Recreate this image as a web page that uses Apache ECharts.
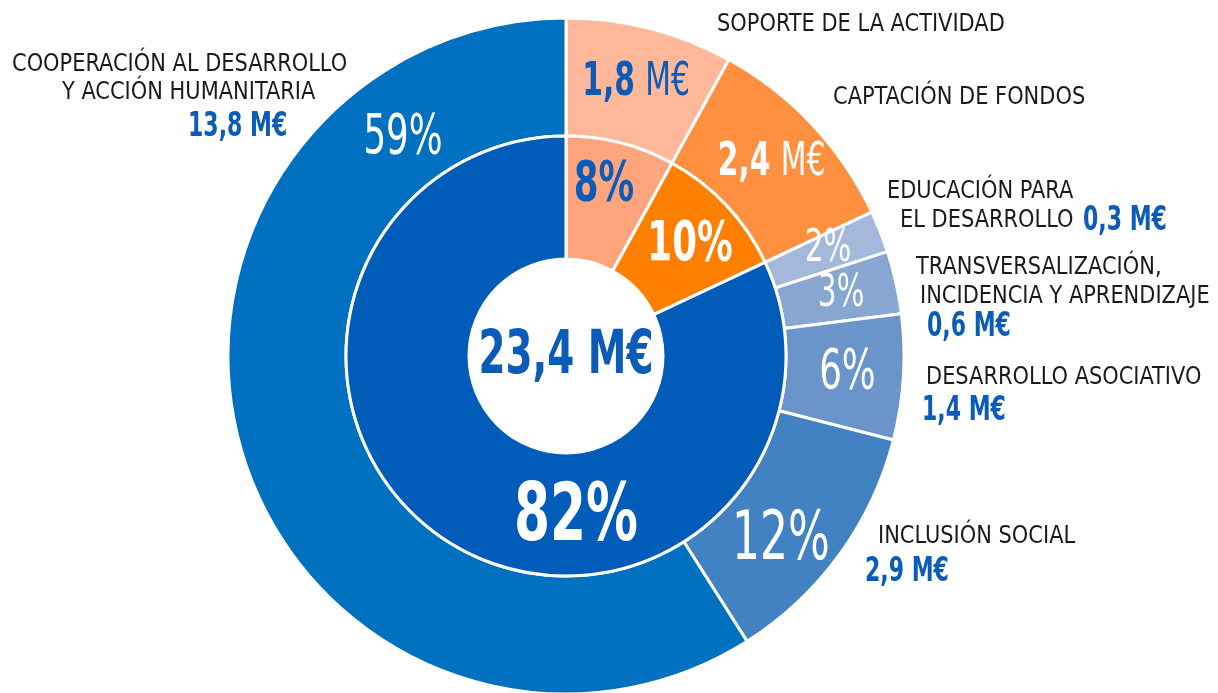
<!DOCTYPE html>
<html>
<head>
<meta charset="utf-8">
<script src="https://cdn.jsdelivr.net/npm/echarts@6/dist/echarts.min.js"></script>
<style>
  html, body { margin: 0; padding: 0; background: #fff; }
  #myChart { width: 1218px; height: 693px; }
</style>
</head>
<body>
<div id="myChart"></div>
<script>
// datos
var categorias = ['SOPORTE DE LA ACTIVIDAD', 'CAPTACIÓN DE FONDOS', 'EDUCACIÓN PARA\nEL DESARROLLO',
  'TRANSVERSALIZACIÓN,\nINCIDENCIA Y APRENDIZAJE', 'DESARROLLO ASOCIATIVO', 'INCLUSIÓN SOCIAL',
  'COOPERACIÓN AL DESARROLLO\nY ACCIÓN HUMANITARIA'];
var porcentajes = [8, 10, 2, 3, 6, 12, 59];
var importes = ['1,8', '2,4', '0,3', '0,6', '1,4', '2,9', '13,8'];
var grupos = ['Soporte', 'Captación', 'Misión'];
var porcentajesGrupo = [8, 10, 82];
var total = '23,4';

var FONT = '"Liberation Sans Narrow", "DejaVu Sans Condensed", sans-serif';
var AZUL = '#0a5cb8';
var ESTRECHO = 0.72; // no hay fuente condensada de verdad, se estrecha a mano
var coloresExt = ['#ffb99a', '#ff9040', '#a3b8db', '#88a6d2', '#6a94ca', '#4281c2', '#0070c0'];
var coloresInt = ['#ffa57d', '#ff8000', '#005bb9'];

// etiquetas de fuera: posicion de cada linea del nombre y del importe
var posNombre = [
  [[717, 25]],
  [[833, 98]],
  [[887, 192], [900, 221]],
  [[916, 268], [920, 297]],
  [[926, 378]],
  [[878, 537]],
  [[12, 65], [62, 93]]
];
var posImporte = [null, null, [1083, 221], [927, 327], [922, 411], [865, 572], [188, 127]];

var graficos = [];
categorias.forEach(function (c, i) {
  c.split('\n').forEach(function (l, j) {
    var p = posNombre[i][j];
    graficos.push({
      type: 'text', x: p[0], y: p[1], scaleX: 0.97,
      style: { text: l, font: '24px ' + FONT, fill: '#1a1a1a', verticalAlign: 'middle', align: 'left' }
    });
  });
  var pi = posImporte[i];
  if (pi) {
    graficos.push({
      type: 'text', x: pi[0], y: pi[1], scaleX: ESTRECHO,
      style: { text: importes[i] + ' M€', font: 'bold 34px ' + FONT, fill: AZUL, verticalAlign: 'middle', align: 'left' }
    });
  }
});
graficos.push({
  type: 'text', x: 566, y: 357, scaleX: ESTRECHO,
  style: { text: total + ' M€', font: 'bold 60px ' + FONT, fill: AZUL, align: 'center', verticalAlign: 'middle' }
});

// estilos de las etiquetas dentro de cada sector
var estiloExt = [
  { formatter: '{b|' + importes[0] + ' }{n|M€}', rich: { b: { fontFamily: FONT, fontWeight: 'bold', fontSize: 46, color: AZUL }, n: { fontFamily: FONT, fontSize: 46, color: AZUL } } },
  { formatter: '{b|' + importes[1] + ' }{n|M€}', rich: { b: { fontFamily: FONT, fontWeight: 'bold', fontSize: 46, color: '#fff' }, n: { fontFamily: FONT, fontSize: 46, color: '#fff' } } },
  { fontSize: 45 }, { fontSize: 45 }, { fontSize: 55 }, { fontSize: 68 }, { fontSize: 55 }
];
var posExt = { 2: [828, 249], 5: [781, 541], 6: [403, 139] };
var estiloInt = [
  { fontSize: 55, color: AZUL }, { fontSize: 55, color: '#fff' }, { fontSize: 80, color: '#fff' }
];
var posInt = { 0: [604, 186], 1: [690, 246], 2: [576, 519] };

var myChart = echarts.init(document.getElementById('myChart'));
myChart.setOption({
  animation: false,
  graphic: graficos,
  series: [{
    type: 'pie',
    center: [566, 356],
    radius: [220, 338],
    startAngle: 90,
    clockwise: true,
    silent: true,
    itemStyle: { borderColor: '#fff', borderWidth: 3 },
    label: { position: 'inside', fontFamily: FONT, color: '#fff', formatter: '{c}%' },
    labelLine: { show: false },
    labelLayout: function (p) {
      var q = posExt[p.dataIndex];
      return q ? { x: q[0], y: q[1] } : {};
    },
    data: porcentajes.map(function (v, i) {
      return {
        name: categorias[i], value: v,
        itemStyle: { color: coloresExt[i] },
        label: estiloExt[i]
      };
    })
  }, {
    type: 'pie',
    center: [566, 356],
    radius: [97, 220],
    startAngle: 90,
    clockwise: true,
    silent: true,
    itemStyle: { borderColor: '#fff', borderWidth: 3 },
    label: { position: 'inside', fontFamily: FONT, fontWeight: 'bold', formatter: '{c}%' },
    labelLine: { show: false },
    labelLayout: function (p) {
      var q = posInt[p.dataIndex];
      return q ? { x: q[0], y: q[1] } : {};
    },
    data: porcentajesGrupo.map(function (v, i) {
      return {
        name: grupos[i], value: v,
        itemStyle: { color: coloresInt[i] },
        label: estiloInt[i]
      };
    })
  }]
});

// estrechar las etiquetas de los sectores
function estrechar() {
  var model = myChart.getModel && myChart.getModel();
  if (!model) return;
  [0, 1].forEach(function (s) {
    var data = model.getSeriesByIndex(s).getData();
    data.each(function (idx) {
      var el = data.getItemGraphicEl(idx);
      var t = el && el.getTextContent && el.getTextContent();
      if (t) { t.scaleX = ESTRECHO; t.markRedraw(); }
    });
  });
  myChart.getZr().refresh();
}
estrechar();
myChart.on('finished', estrechar);
</script>
</body>
</html>
